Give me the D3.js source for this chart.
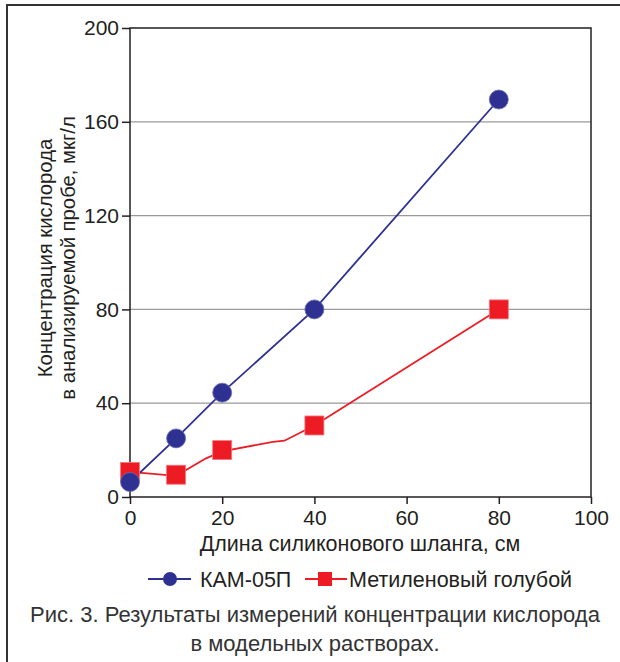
<!DOCTYPE html>
<html>
<head>
<meta charset="utf-8">
<script src="https://cdn.jsdelivr.net/npm/d3@7"></script>
<style>
  body { margin: 0; background: #fff; }
  svg { display: block; font-family: "Liberation Sans", Arial, sans-serif; }
</style>
</head>
<body>
<svg width="620" height="662"></svg>
<script>
// data
var xTicks = [0, 20, 40, 60, 80, 100];
var yTicks = [0, 40, 80, 120, 160, 200];
var kamX = [0, 10, 20, 40, 80];
var kamY = [6.4, 25, 44.5, 80, 169.5];
var mbX = [0, 10, 20, 40, 80];
var mbY = [10.7, 9.5, 20, 30.5, 80];
// the red line is not straight between its markers
var mbLineX = [0, 10, 16.5, 20, 31, 33.5, 40, 80];
var mbLineY = [10.7, 9, 16.5, 19.5, 23.5, 24, 30.5, 80];
var seriesNames = ["КАМ-05П", "Метиленовый голубой"];
var xTitle = "Длина силиконового шланга, см";
var yTitle = ["Концентрация кислорода", "в анализируемой пробе, мкг/л"];
var caption = ["Рис. 3. Результаты измерений концентрации кислорода", "в модельных растворах."];

var blue = "#2e3192", red = "#ed1c24", ink = "#231f20";

var svg = d3.select("svg");

// outer frame (left and top only)
svg.append("path")
  .attr("d", "M7,662 V5 H620")
  .attr("fill", "none")
  .attr("stroke", "#333")
  .attr("stroke-width", 2);

var x = d3.scaleLinear().domain([0, 100]).range([130, 591]);
var y = d3.scaleLinear().domain([0, 200]).range([497, 28]);

// grid
svg.append("g")
  .selectAll("line")
  .data(yTicks.filter(function(d) { return d > 0 && d < 200; }))
  .enter().append("line")
  .attr("x1", x(0)).attr("x2", x(100))
  .attr("y1", function(d) { return y(d); })
  .attr("y2", function(d) { return y(d); })
  .attr("stroke", "#9a9a9a")
  .attr("stroke-width", 1.3);

// plot box
svg.append("rect")
  .attr("x", x(0)).attr("y", y(200))
  .attr("width", x(100) - x(0)).attr("height", y(0) - y(200))
  .attr("fill", "none")
  .attr("stroke", ink)
  .attr("stroke-width", 1.5);

var xAxis = svg.append("g")
  .attr("transform", "translate(0," + y(0) + ")")
  .call(d3.axisBottom(x).tickValues(xTicks).tickSize(7).tickPadding(6));
var yAxis = svg.append("g")
  .attr("transform", "translate(" + x(0) + ",0)")
  .call(d3.axisLeft(y).tickValues(yTicks).tickSize(8).tickPadding(3));

[xAxis, yAxis].forEach(function(a) {
  a.select(".domain").remove();
  a.selectAll("line").attr("stroke", ink).attr("stroke-width", 1.5);
  a.selectAll("text")
    .attr("fill", ink)
    .style("font-size", "21px")
    .style("font-family", "'Liberation Sans', Arial, sans-serif");
});

// lines
var line = d3.line()
  .x(function(d) { return x(d[0]); })
  .y(function(d) { return y(d[1]); });

svg.append("path")
  .datum(d3.zip(mbLineX, mbLineY))
  .attr("d", line)
  .attr("fill", "none")
  .attr("stroke", red)
  .attr("stroke-width", 1.8);

svg.append("path")
  .datum(d3.zip(kamX, kamY))
  .attr("d", line)
  .attr("fill", "none")
  .attr("stroke", blue)
  .attr("stroke-width", 1.8);

// markers
svg.append("g")
  .selectAll("rect")
  .data(d3.zip(mbX, mbY))
  .enter().append("rect")
  .attr("x", function(d) { return x(d[0]) - 9.5; })
  .attr("y", function(d) { return y(d[1]) - 9.5; })
  .attr("width", 19).attr("height", 19)
  .attr("fill", red)
  .attr("stroke", "#f47a80")
  .attr("stroke-width", 0.8);

svg.append("g")
  .selectAll("circle")
  .data(d3.zip(kamX, kamY))
  .enter().append("circle")
  .attr("cx", function(d) { return x(d[0]); })
  .attr("cy", function(d) { return y(d[1]); })
  .attr("r", 9.5)
  .attr("fill", blue)
  .attr("stroke", "#6a6db0")
  .attr("stroke-width", 0.8);

// axis titles
svg.append("text")
  .attr("x", 360).attr("y", 551)
  .attr("text-anchor", "middle")
  .attr("fill", ink)
  .style("font-size", "21.5px")
  .text(xTitle);

svg.append("g")
  .attr("transform", "translate(52,258) rotate(-90)")
  .selectAll("text")
  .data(yTitle)
  .enter().append("text")
  .attr("x", 0)
  .attr("y", function(d, i) { return i * 23; })
  .attr("text-anchor", "middle")
  .attr("fill", ink)
  .style("font-size", "20.3px")
  .text(function(d) { return d; });

// legend
var leg = svg.append("g").attr("transform", "translate(0,579)");
leg.append("line").attr("x1", 148).attr("x2", 191).attr("stroke", blue).attr("stroke-width", 1.8);
leg.append("circle").attr("cx", 170).attr("r", 7).attr("fill", blue);
leg.append("text").attr("x", 200).attr("y", 8).attr("fill", ink).style("font-size", "21.5px").text(seriesNames[0]);
leg.append("line").attr("x1", 305).attr("x2", 347).attr("stroke", red).attr("stroke-width", 1.8);
leg.append("rect").attr("x", 318).attr("y", -7).attr("width", 14).attr("height", 14).attr("fill", red);
leg.append("text").attr("x", 349).attr("y", 8).attr("fill", ink).style("font-size", "21.5px").text(seriesNames[1]);

// caption
svg.append("g")
  .selectAll("text")
  .data(caption)
  .enter().append("text")
  .attr("x", 315)
  .attr("y", function(d, i) { return 622 + i * 29; })
  .attr("text-anchor", "middle")
  .attr("fill", "#333")
  .style("font-size", "22px")
  .text(function(d) { return d; });
</script>
</body>
</html>
